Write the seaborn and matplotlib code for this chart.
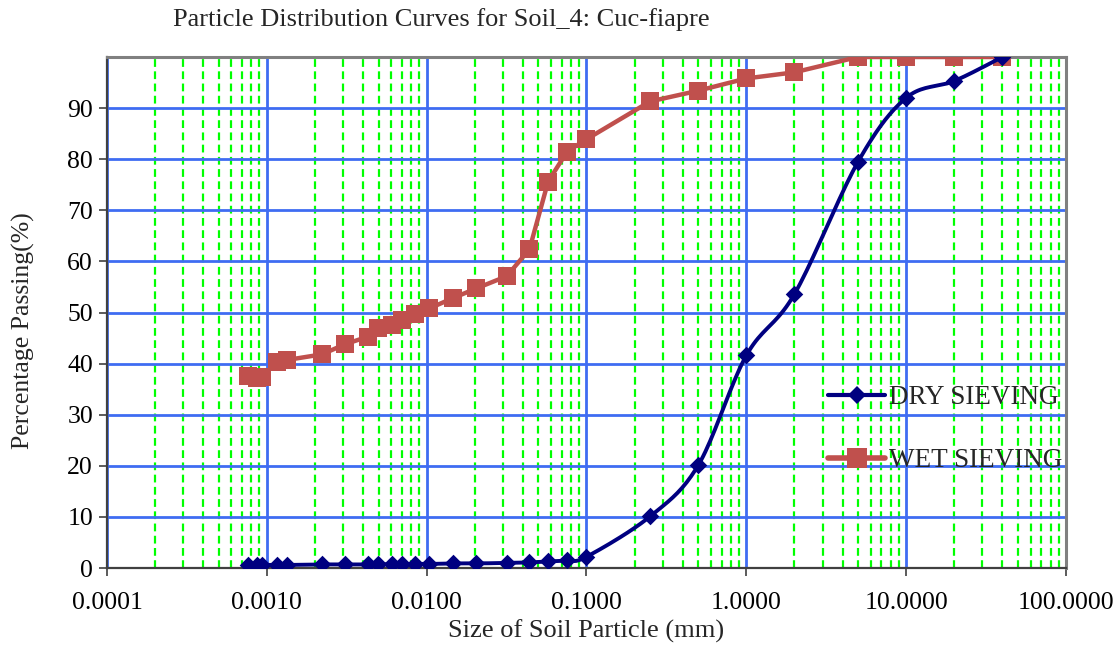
import numpy as np
import pandas as pd
import matplotlib
matplotlib.use("Agg")
import matplotlib.pyplot as plt
import seaborn as sns
from matplotlib.ticker import LogLocator, FixedLocator, NullFormatter, FixedFormatter
from matplotlib.lines import Line2D

# ---- data ----
fine_sizes = [0.000766, 0.000864, 0.00093, 0.00115, 0.00133, 0.00221, 0.00309,
              0.00432, 0.00499, 0.00605, 0.00699, 0.00846, 0.0104, 0.01456,
              0.0204, 0.0317, 0.044, 0.0575, 0.0757, 0.1]
sieve_sizes = [0.25, 0.5, 1.0, 2.0, 5.0, 10.0, 20.0, 40.0]

dry_sizes = fine_sizes + sieve_sizes
dry_pass = [0.6, 0.6, 0.6, 0.6, 0.6, 0.7, 0.7, 0.7, 0.7, 0.8, 0.8, 0.8, 0.8,
            0.9, 0.9, 1.0, 1.1, 1.3, 1.5, 2.2,
            10.1, 20.1, 41.6, 53.6, 79.5, 92.0, 95.3, 100.0]

wet_sizes = fine_sizes + sieve_sizes
wet_pass = [37.6, 37.1, 37.3, 40.4, 40.7, 41.8, 43.8, 45.3, 46.9, 47.6, 48.5,
            49.8, 50.8, 52.8, 54.7, 57.1, 62.4, 75.6, 81.5, 83.9,
            91.3, 93.4, 95.8, 97.0, 100.0, 100.0, 100.0, 100.0]

x_ticks = [0.0001, 0.001, 0.01, 0.1, 1, 10, 100]
x_tick_labels = ["0.0001", "0.0010", "0.0100", "0.1000", "1.0000", "10.0000", "100.0000"]
y_ticks = [0, 10, 20, 30, 40, 50, 60, 70, 80, 90]

title = "Particle Distribution Curves for Soil_4: Cuc-fiapre"
xlabel = "Size of Soil Particle (mm)"
ylabel = "Percentage Passing(%)"

DRY_C = "#000080"
WET_C = "#C0504D"


def smooth_curve(xs, ys, n=20):
    """Catmull-Rom spline through points in (log10 x, y) space (Excel-like smoothed line)."""
    lx = np.log10(np.asarray(xs, float))
    yy = np.asarray(ys, float)
    px = lx * 159.8
    py = yy * 5.11
    P = np.column_stack([px, py])
    P = np.vstack([P[0], P, P[-1]])
    out = []
    for i in range(1, len(P) - 2):
        p0, p1, p2, p3 = P[i - 1], P[i], P[i + 1], P[i + 2]
        t = np.linspace(0, 1, n, endpoint=False)[:, None]
        c = 0.5 * ((2 * p1) + (-p0 + p2) * t + (2 * p0 - 5 * p1 + 4 * p2 - p3) * t ** 2
                   + (-p0 + 3 * p1 - 3 * p2 + p3) * t ** 3)
        out.append(c)
    out.append(P[-2][None, :])
    out = np.vstack(out)
    return 10 ** (out[:, 0] / 159.8), out[:, 1] / 5.11


sns.set_style("white")
plt.rcParams["font.family"] = ["Liberation Serif", "DejaVu Serif"]

fig = plt.figure(figsize=(11.2, 6.46), dpi=100)
ax = fig.add_axes([0.0955, 0.1207, 0.8563, 0.7911])

ax.set_xscale("log")
ax.set_xlim(0.0001, 100)
ax.set_ylim(0, 100)

# grid
ax.xaxis.set_major_locator(FixedLocator(x_ticks))
ax.xaxis.set_major_formatter(FixedFormatter(x_tick_labels))
ax.xaxis.set_minor_locator(LogLocator(base=10, subs=np.arange(2, 10), numticks=100))
ax.xaxis.set_minor_formatter(NullFormatter())
ax.set_yticks(y_ticks)
ax.grid(which="minor", axis="x", color="#00FF00", linestyle=(0, (3.5, 2)), linewidth=1.6, zorder=0)
ax.grid(which="major", axis="both", color="#3F6CF2", linestyle="-", linewidth=2.0, zorder=0.5)
ax.set_axisbelow(True)

# wet sieving
wet_df = pd.DataFrame({"size": wet_sizes, "passing": wet_pass})
sns.lineplot(data=wet_df, x="size", y="passing", ax=ax, color=WET_C, linewidth=3.2,
             marker="s", markersize=13.5, markeredgewidth=0, sort=False, zorder=3)

# dry sieving (smoothed line + markers)
sx, sy = smooth_curve(dry_sizes, dry_pass)
sm_df = pd.DataFrame({"size": sx, "passing": sy})
sns.lineplot(data=sm_df, x="size", y="passing", ax=ax, color=DRY_C, linewidth=2.8,
             sort=False, zorder=4)
dry_df = pd.DataFrame({"size": dry_sizes, "passing": dry_pass})
sns.scatterplot(data=dry_df, x="size", y="passing", ax=ax, color=DRY_C, marker="D",
                s=80, linewidth=0, zorder=5)

# spines
for s in ["top", "right"]:
    ax.spines[s].set_color("#808080")
    ax.spines[s].set_linewidth(2.2)
for s in ["left", "bottom"]:
    ax.spines[s].set_color("#404040")
    ax.spines[s].set_linewidth(1.6)

ax.tick_params(which="major", direction="out", length=6, width=1.2, color="#404040",
               labelsize=18.5, bottom=True, left=True)
ax.tick_params(axis="x", which="major", pad=11)
ax.tick_params(axis="y", which="major", pad=4)
ax.tick_params(which="minor", length=0)
for lbl in ax.get_xticklabels() + ax.get_yticklabels():
    lbl.set_color("black")

ax.set_xlabel(xlabel, fontsize=19, labelpad=4)
ax.set_ylabel(ylabel, fontsize=18.5)
ax.yaxis.label.set_va("center")
ax.yaxis.set_label_coords(-0.087, 0.464)
fig.text(0.394, 0.970, title, fontsize=19, ha="center", va="center")

handles = [Line2D([], [], color=DRY_C, lw=3, marker="D", markersize=9.5, markeredgewidth=0),
           Line2D([], [], color=WET_C, lw=4, marker="s", markersize=14, markeredgewidth=0)]
leg = ax.legend(handles, ["DRY SIEVING", "WET SIEVING"], loc="center left",
                bbox_to_anchor=(0.752, 0.272), frameon=False, fontsize=19.5,
                handlelength=2.1, handletextpad=0.15, labelspacing=1.4,
                borderpad=0, borderaxespad=0)

fig.savefig("out.png", dpi=100)
